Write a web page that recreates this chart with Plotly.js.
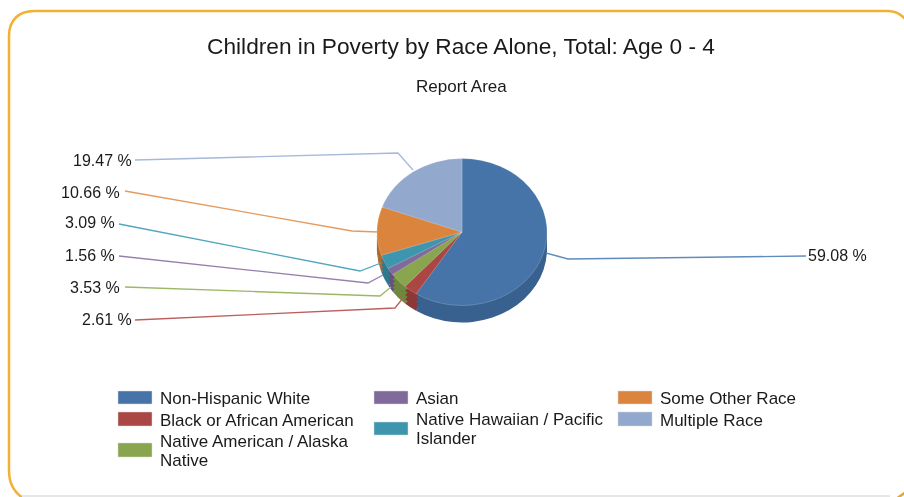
<!DOCTYPE html>
<html>
<head>
<meta charset="utf-8">
<script src="https://cdn.plot.ly/plotly-3.0.1.min.js"></script>
<style>
html,body{margin:0;padding:0;background:#fff;overflow:hidden}
#chart{width:904px;height:497px;filter:blur(0.35px)}
</style>
</head>
<body>
<div id="chart"></div>
<script>
// Data
var categories = ["Non-Hispanic White","Black or African American","Native American / Alaska Native","Asian","Native Hawaiian / Pacific Islander","Some Other Race","Multiple Race"];
var percentages = [59.08,2.61,3.53,1.56,3.09,10.66,19.47];
var legendText = ["Non-Hispanic White","Black or African American","Native American / Alaska<br>Native","Asian","Native Hawaiian / Pacific<br>Islander","Some Other Race","Multiple Race"];
var topColors = ["#4674a9","#aa4643","#89a54e","#80699b","#3d96ae","#db843d","#92a8cd"];
var sideColors = ["#39618f","#8c3836","#6f883d","#665280","#2f7a8e","#b06a2e","#7689a8"];
var leaderColors = ["#5f8bbd","#bb5f5c","#9db765","#9580ad","#4fa6bd","#e59a5c","#a6b9d8"];
var titleText = "Children in Poverty by Race Alone, Total: Age 0 - 4";
var subtitleText = "Report Area";

// Layout constants (pixels)
var W = 904, H = 497;
var CX = 462, CY = 232, RX = 85, RY = 73.5, DEPTH = 17;
var squash = RY / RX;
function px(x){ return x / W; }
function py(y){ return 1 - y / H; }
function lineOf(pts){
  return pts.map(function(p,i){ return (i ? "L" : "M") + px(p[0]) + "," + py(p[1]); }).join(" ");
}

var leaderPaths = [
  [[546,253],[568,259],[806,256]],
  [[135,320],[395,308],[403,298]],
  [[125,287],[380,296],[391,287]],
  [[119,256],[368,283],[383,275]],
  [[119,224],[360,271],[381,263]],
  [[125,191],[352,231],[378,232]],
  [[135,160],[398,153],[413,170]]
];
var valuePos = [
  {x:806,y:255,a:"left"},
  {x:134,y:319,a:"right"},
  {x:122,y:287,a:"right"},
  {x:117,y:255,a:"right"},
  {x:117,y:223,a:"right"},
  {x:122,y:192,a:"right"},
  {x:134,y:160,a:"right"}
];
var legendPos = [
  {sx:118,sy:391,sh:13,tx:158,ty:[398]},
  {sx:118,sy:412,sh:14,tx:158,ty:[420]},
  {sx:118,sy:443,sh:14,tx:158,ty:[441,460]},
  {sx:374,sy:391,sh:13,tx:414,ty:[398]},
  {sx:374,sy:422,sh:13,tx:414,ty:[419,438]},
  {sx:618,sy:391,sh:13,tx:658,ty:[398]},
  {sx:618,sy:412,sh:14,tx:658,ty:[420]}
];

function pieAt(offset, colors, lineColor){
  var c = CY + offset;
  return {
    type:"pie", values:percentages, labels:categories, sort:false,
    direction:"clockwise", rotation:0, textinfo:"none", showlegend:false,
    hoverinfo: offset ? "skip" : "label+percent",
    domain:{x:[px(CX-RX),px(CX+RX)], y:[py(c+RX),py(c-RX)]},
    marker:{colors:colors, line:{color:lineColor, width:offset?0:0.6}}
  };
}
var drop = DEPTH / squash;
var traces = [pieAt(drop,sideColors,"#fff"),pieAt(drop*0.75,sideColors,"#fff"),pieAt(drop*0.5,sideColors,"#fff"),pieAt(drop*0.25,sideColors,"#fff"),pieAt(0,topColors,"rgba(255,255,255,0.35)")];

var shapes = [];
var annotations = [];
var INK = "#1a1a1a";
var valueFont = {family:"Liberation Sans, Arial, sans-serif", size:16, color:INK};
var legendFont = {family:"Liberation Sans, Arial, sans-serif", size:17, color:INK};

// Frame
shapes.push({type:"path", xref:"paper", yref:"paper",
  path:"M"+px(9)+","+py(36)+" C"+px(9)+","+py(20)+" "+px(19)+","+py(11)+" "+px(34)+","+py(11)+
       " L"+px(888)+","+py(11)+" C"+px(896)+","+py(11)+" "+px(901)+","+py(14)+" "+px(906)+","+py(20),
  line:{color:"#f2b133", width:2.5}});
shapes.push({type:"path", xref:"paper", yref:"paper",
  path:"M"+px(9)+","+py(36)+" L"+px(9)+","+py(470)+" C"+px(9)+","+py(484)+" "+px(14)+","+py(492)+" "+px(24)+","+py(499),
  line:{color:"#f2b133", width:2.5}});
shapes.push({type:"path", xref:"paper", yref:"paper",
  path:"M"+px(22)+","+py(496)+" L"+px(890)+","+py(496),
  line:{color:"#e6e6e6", width:2}});
shapes.push({type:"path", xref:"paper", yref:"paper",
  path:"M"+px(896)+","+py(499)+" L"+px(906)+","+py(492),
  line:{color:"#e0a93a", width:2.5}});

percentages.forEach(function(v,i){
  shapes.push({type:"path", xref:"paper", yref:"paper", path:lineOf(leaderPaths[i]),
    line:{color:leaderColors[i], width:1.3}});
  annotations.push({xref:"paper", yref:"paper", x:px(valuePos[i].x), y:py(valuePos[i].y),
    xanchor:valuePos[i].a, yanchor:"middle", showarrow:false, align:valuePos[i].a,
    text:v.toFixed(2)+" %", font:valueFont});
  var L = legendPos[i];
  shapes.push({type:"rect", xref:"paper", yref:"paper", x0:px(L.sx), x1:px(L.sx+34),
    y0:py(L.sy), y1:py(L.sy+L.sh), fillcolor:topColors[i], line:{width:0.5,color:"#d8d8d8"}});
  legendText[i].split("<br>").forEach(function(line,k){
    annotations.push({xref:"paper", yref:"paper", x:px(L.tx), y:py(L.ty[k]),
      xanchor:"left", yanchor:"middle", showarrow:false, align:"left",
      text:line, font:legendFont});
  });
});

annotations.push({xref:"paper", yref:"paper", x:px(461), y:py(86), xanchor:"center", yanchor:"middle",
  showarrow:false, text:subtitleText, font:legendFont});

var layout = {
  width:W, height:H, margin:{l:0,r:0,t:0,b:0},
  paper_bgcolor:"#fff", plot_bgcolor:"#fff", showlegend:false,
  title:{text:titleText, x:px(461), y:py(46), xref:"paper", yref:"paper", xanchor:"center", yanchor:"middle",
    font:{family:"Liberation Sans, Arial, sans-serif", size:22.7, color:INK}},
  shapes:shapes, annotations:annotations
};

Plotly.newPlot("chart", traces, layout, {displayModeBar:false}).then(function(gd){
  // tilt the pie into the reference's perspective ellipse
  var layer = gd.querySelector(".pielayer");
  if(layer) layer.setAttribute("transform","translate(0,"+CY+") scale(1,"+squash+") translate(0,"+(-CY)+")");
});
</script>
</body>
</html>
